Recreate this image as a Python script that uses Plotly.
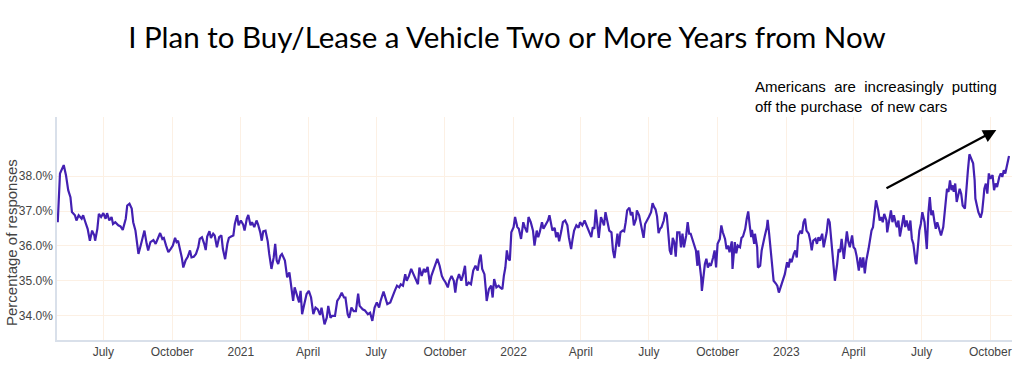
import pandas as pd
import plotly.graph_objects as go

START_DATE = "2020-05-01"
# days since START_DATE
day_offsets = [
0,3,8,11,14,17,19,23,25,28,32,34,37,40,43,46,49,50,53,55,58,61,64,66,69,72,74,77,81,84,87,91,93,96,99,101,104,107,108,111,114,116,119,121,124,128,131,134,137,140,142,145,148,151,154,157,159,
161,163,166,168,171,174,177,179,182,185,188,190,193,196,198,200,203,205,208,210,213,216,219,221,224,227,229,232,235,237,240,242,245,248,250,253,255,258,260,263,266,268,271,273,275,278,281,283,286,289,291,293,295,298,300,304,307,310,312,315,317,
320,323,325,327,330,333,336,339,342,345,348,351,353,357,360,362,365,367,371,374,377,380,383,385,388,390,393,396,399,402,404,408,411,415,418,421,424,427,430,432,436,439,441,445,448,451,454,457,459,462,465,467,470,473,476,479,
482,484,487,490,492,495,498,500,503,506,508,511,514,516,519,522,524,527,530,532,534,537,540,542,545,547,550,553,556,559,562,564,566,568,571,573,574,577,580,582,584,587,590,592,595,597,599,601,603,605,607,610,612,615,617,620,623,625,628,630,633,636,638,
641,643,645,648,650,653,656,658,660,662,665,667,669,671,674,676,679,682,684,687,689,691,694,697,699,702,705,707,709,711,714,716,718,720,723,724,727,729,731,733,736,738,741,743,745,747,749,751,753,756,758,760,762,765,767,769,771,774,775,778,780,782,784,786,789,791,794,796,798,
800,802,804,806,808,811,813,815,817,819,821,823,825,827,829,832,834,836,838,841,843,845,847,849,852,854,856,857,859,861,862,864,866,868,870,872,874,877,879,881,883,886,888,890,893,895,897,899,902,903,906,908,910,913,915,917,920,922,924,926,928,929,932,933,936,937,940,942,944,946,949,950,952,954,956,958,
961,963,965,967,969,971,973,976,978,980,982,985,987,989,991,994,996,998,1000,1002,1005,1007,1009,1011,1014,1016,1018,1020,1023,1025,1027,1029,1031,1033,1035,1037,1039,1040,1043,1045,1047,1049,1052,1054,1056,1058,1060,1063,1065,1067,1069,1072,1074,1076,1078,1080,1082,1085,1087,1089,1091,1093,1095,1098,1100,1102,1104,1106,1109,1110,1113,1115,1117,1119,
1122,1123,1125,1127,1130,1132,1134,1136,1139,1141,1143,1145,1148,1149,1151,1153,1155,1157,1160,1161,1163,1165,1167,1169,1171,1173,1175,1177,1180,1182,1185,1187,1189,1190,1192,1194,1196,1198,1199,1201,1203,1205,1207,1209,1211,1214,1216,1218,1220,1223,1225,1227,1228,1230,1232,1235,1237,1239,1240,1242,1244,1246,1248,1251,1253,1255,1257,1260,1262,1264,1266,1268,1271,1273,
]
pct_responses = [
36.68,38.08,38.32,38.03,37.60,37.40,36.97,36.88,36.73,36.88,36.78,36.88,36.68,36.49,36.15,36.44,36.30,36.15,36.49,36.92,36.83,36.94,36.78,36.94,36.73,36.83,36.63,36.68,36.59,36.56,36.46,36.78,37.16,37.21,37.07,36.68,36.44,35.96,35.77,36.01,36.25,36.44,36.06,35.87,36.11,36.17,36.06,36.20,36.37,36.20,36.23,36.01,35.82,35.91,36.01,36.23,36.11,
36.15,35.96,35.67,35.38,35.58,35.69,35.87,35.67,35.69,35.77,35.96,36.20,36.25,36.06,35.88,36.27,36.42,36.23,36.35,36.30,35.96,36.25,36.30,35.91,35.62,36.06,36.23,36.27,36.30,36.63,36.88,36.59,36.73,36.62,36.44,36.78,36.89,36.59,36.68,36.54,36.73,36.62,36.39,36.15,36.42,36.44,36.13,35.77,35.34,35.67,36.06,35.58,35.48,35.72,35.77,35.58,35.10,35.24,34.86,34.42,34.81,
34.58,34.38,34.71,34.04,34.33,34.62,34.71,34.52,34.04,34.23,34.18,34.02,34.23,33.75,33.94,34.28,33.94,33.99,33.99,34.42,34.52,34.66,34.52,34.52,34.04,33.94,34.23,34.13,34.13,34.63,34.28,34.18,34.15,34.04,34.08,33.85,34.23,34.38,34.23,34.42,34.69,34.47,34.33,34.38,34.52,34.71,34.86,34.81,34.90,34.86,35.19,35.00,35.14,35.34,35.19,35.05,
34.90,35.38,35.14,35.34,35.24,35.40,34.90,35.14,35.34,35.53,35.63,35.43,35.14,35.05,34.95,34.81,35.00,35.14,35.00,34.66,35.00,35.19,35.00,35.14,35.43,34.86,34.95,34.90,35.29,35.43,35.29,35.58,35.75,35.34,35.19,34.71,34.42,34.76,34.86,34.52,35.05,34.81,34.86,34.81,34.76,35.14,35.38,35.87,35.63,35.58,36.39,36.54,36.83,36.54,36.49,36.20,36.68,36.54,36.39,36.83,36.68,36.44,36.01,
36.44,36.25,36.39,36.68,36.49,36.62,36.73,36.88,36.68,36.44,36.52,36.25,36.39,36.13,36.44,36.68,36.73,36.59,36.25,35.91,36.20,36.44,36.59,36.52,36.68,36.59,36.73,36.63,36.54,36.44,36.25,36.54,36.49,37.04,36.49,36.23,36.83,36.68,36.59,36.97,36.68,36.44,36.39,35.87,35.65,36.01,36.35,35.98,36.39,36.44,36.42,36.68,37.02,37.10,36.88,36.97,36.59,36.78,37.02,36.88,36.63,36.49,36.23,36.63,36.78,36.83,36.97,37.23,37.12,
37.05,36.85,36.37,36.49,36.54,36.73,36.97,36.88,36.44,35.87,35.75,36.23,36.11,35.69,36.39,36.39,35.96,36.35,35.96,36.30,36.68,36.35,36.35,36.20,36.01,35.87,35.43,35.87,35.48,35.10,34.71,35.19,35.48,35.63,35.38,35.48,35.43,35.67,35.87,35.38,36.06,36.20,36.59,36.39,36.20,35.91,36.01,35.82,36.13,35.34,36.11,35.79,36.01,35.96,36.23,36.27,36.49,36.78,36.99,36.59,36.25,36.46,36.06,36.35,35.96,35.38,35.43,35.87,36.11,36.27,36.54,36.75,36.35,35.82,35.43,35.00,
34.92,34.85,34.66,34.81,34.95,35.05,35.19,35.53,35.38,35.63,35.53,35.77,35.87,35.67,36.30,36.44,36.35,36.68,36.78,36.44,36.35,36.15,35.87,36.15,36.20,36.06,36.25,36.15,36.35,35.96,36.20,36.39,36.78,36.68,36.20,35.77,35.29,35.00,35.48,35.91,35.82,36.20,35.63,36.11,36.42,36.11,35.96,36.30,35.96,35.91,35.72,35.29,35.67,35.38,35.67,35.21,35.58,35.91,36.25,36.44,36.54,36.92,37.31,37.02,36.73,36.83,36.68,36.92,36.73,36.39,36.78,37.02,36.68,36.88,
36.60,36.54,36.73,36.27,36.63,36.88,36.54,36.73,36.44,36.73,36.20,36.06,35.53,35.48,35.96,36.44,36.63,36.97,36.68,36.35,35.91,36.92,37.40,36.88,37.02,36.73,36.49,36.68,36.49,36.30,36.54,36.92,37.45,37.64,37.55,37.88,37.60,37.74,37.55,37.79,37.26,37.45,37.64,37.50,37.16,37.07,37.79,38.17,38.63,38.46,38.37,37.88,37.36,37.16,36.97,36.81,36.97,37.40,37.64,37.79,37.50,38.08,37.93,38.03,37.60,37.79,37.69,37.98,38.08,37.98,38.17,38.08,38.37,38.58,
]

x_tick_dates = ["2020-07-01","2020-10-01","2021-01-01","2021-04-01","2021-07-01","2021-10-01",
                "2022-01-01","2022-04-01","2022-07-01","2022-10-01","2023-01-01","2023-04-01",
                "2023-07-01","2023-10-01"]
x_tick_labels = ["July","October","2021","April","July","October","2022","April","July",
                 "October","2023","April","July","October"]
y_tick_vals = [34, 35, 36, 37, 38]
y_tick_labels = ["34.0%", "35.0%", "36.0%", "37.0%", "38.0%"]

title_text = "I Plan to Buy/Lease a Vehicle Two or More Years from Now"
y_title_text = "Percentage of responses"
note_text = "Americans  are  increasingly  putting<br>off the purchase  of new cars"
arrow_tail = ("2023-05-13", 37.63)
arrow_head = ("2023-10-09", 39.33)

dates = pd.to_datetime(START_DATE) + pd.to_timedelta(day_offsets, unit="D")

fig = go.Figure()
fig.add_trace(go.Scatter(x=dates, y=pct_responses, mode="lines",
                         line=dict(color="#4320b2", width=2.2), hoverinfo="skip"))

grid = "#fcf0e4"
axis_line = "#d9e0ea"
sans = "Liberation Sans, Arial, sans-serif"
tick_font = dict(family=sans, size=12, color="#444444")
fig.update_layout(
    width=1024, height=383,
    margin=dict(l=57, r=12, t=117, b=43),
    paper_bgcolor="white", plot_bgcolor="white",
    showlegend=False,
    title=dict(text=title_text, x=0.495, xanchor="center", y=0.902, yanchor="middle",
               font=dict(family="Lato", size=29.5, color="#000000")),
    font=dict(family=sans, color="#444444"),
)
fig.update_xaxes(
    range=["2020-04-30", "2023-10-30"],
    tickvals=x_tick_dates, ticktext=x_tick_labels,
    showgrid=True, gridcolor=grid, gridwidth=1,
    showline=True, linecolor=axis_line, linewidth=1.5,
    ticks="", tickfont=tick_font, zeroline=False, automargin=False,
)
fig.update_yaxes(
    range=[33.3, 39.7],
    tickvals=y_tick_vals, ticktext=y_tick_labels,
    showgrid=True, gridcolor=grid, gridwidth=1,
    showline=True, linecolor=axis_line, linewidth=1.5,
    ticks="", tickfont=tick_font, zeroline=False, automargin=False,
)
fig.add_annotation(x=-0.0471, y=0.435, xref="paper", yref="paper", xanchor="center",
                   yanchor="middle", text=y_title_text, textangle=-90, showarrow=False,
                   font=dict(family=sans, size=15, color="#444444"))
fig.add_annotation(x=arrow_head[0], y=arrow_head[1], ax=arrow_tail[0], ay=arrow_tail[1],
                   xref="x", yref="y", axref="x", ayref="y", text="",
                   showarrow=True, arrowhead=2, arrowsize=1.2, arrowwidth=2.2, arrowcolor="#000000")
fig.add_annotation(x=0.729, y=1.186, xref="paper", yref="paper", xanchor="left", yanchor="top",
                   text=note_text, showarrow=False, align="left",
                   font=dict(family="Liberation Sans", size=15, color="#000000"))

# drop the page's default 8px body margin so the figure fills the window exactly
fig.write_html("out.html", config={"displayModeBar": False},
               post_script="document.body.style.margin='0';")
